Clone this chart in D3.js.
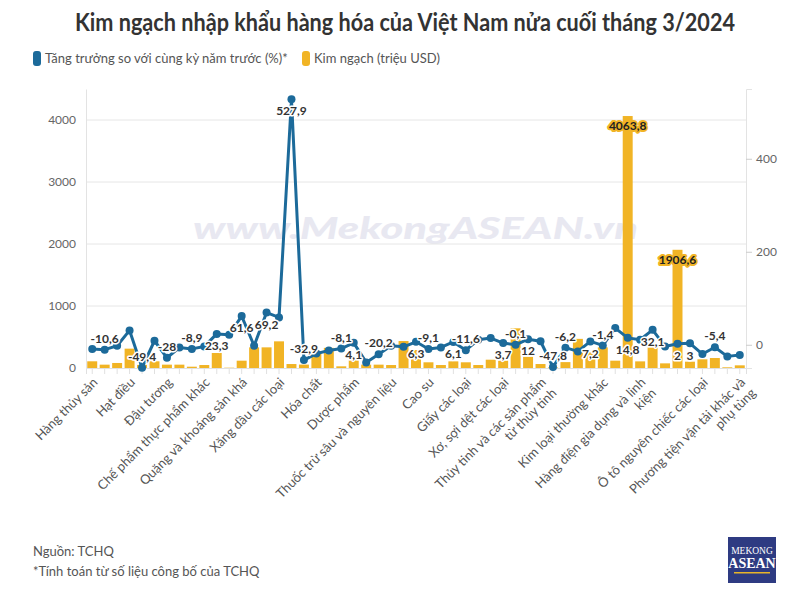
<!DOCTYPE html>
<html>
<head>
<meta charset="utf-8">
<script src="https://cdn.jsdelivr.net/npm/d3@7"></script>
<style>
  body { margin: 0; background: #fff; }
  svg { font-family: Lato, "Open Sans", sans-serif; }
</style>
</head>
<body>
<svg width="806" height="591"></svg>
<script>
// mặt hàng nhập khẩu (53 nhóm, theo thứ tự TCHQ)
var categories = [
  "Hàng thủy sản", "Sữa và sản phẩm sữa", "Hàng rau quả", "Hạt điều", "Lúa mì", "Ngô",
  "Đậu tương", "Dầu mỡ động thực vật", "Bánh kẹo và các sản phẩm từ ngũ cốc",
  "Chế phẩm thực phẩm khác", "Thức ăn gia súc và nguyên liệu", "Nguyên phụ liệu thuốc lá",
  "Quặng và khoáng sản khá", "Than các loại", "Dầu thô", "Xăng dầu các loại",
  "Khí đốt hóa lỏng", "Sản phẩm khác từ dầu mỏ", "Hóa chất", "Sản phẩm hóa chất",
  "Nguyên phụ liệu dược phẩm", "Dược phẩm", "Phân bón các loại",
  "Chất thơm, mỹ phẩm và chế phẩm vệ sinh", "Thuốc trừ sâu và nguyên liệu",
  "Chất dẻo nguyên liệu", "Sản phẩm từ chất dẻo", "Cao su", "Sản phẩm từ cao su",
  "Gỗ và sản phẩm gỗ", "Giấy các loại", "Sản phẩm từ giấy", "Bông các loại",
  "Xơ, sợi dệt các loại", "Vải các loại", "Nguyên phụ liệu dệt, may, da, giày",
  "Thủy tinh và các sản phẩm từ thủy tinh", "Đá quý, kim loại quý và sản phẩm",
  "Phế liệu sắt thép", "Sắt thép các loại", "Sản phẩm từ sắt thép", "Kim loại thường khác",
  "Sản phẩm từ kim loại thường khác", "Máy vi tính, sản phẩm điện tử và linh kiện",
  "Hàng điện gia dụng và linh kiện", "Điện thoại các loại và linh kiện",
  "Máy ảnh, máy quay phim và linh kiện", "Máy móc, thiết bị, dụng cụ, phụ tùng khác",
  "Dây điện và dây cáp điện", "Ô tô nguyên chiếc các loại", "Linh kiện, phụ tùng ô tô",
  "Xe máy và linh kiện, phụ tùng", "Phương tiện vận tải khác và phụ tùng"
];

// Kim ngạch (triệu USD)
var kimNgach = [
  108, 54, 81, 312, 50, 108, 54, 54, 21, 48, 242, 5, 118,
  333, 333, 430, 64, 55, 270, 325, 27, 124, 54, 54, 48,
  435, 290, 92, 48, 107, 92, 48, 134, 118, 640, 180, 64,
  10, 95, 470, 252, 333, 118, 4063.8, 107, 333, 75, 1906.6,
  102, 140, 161, 11, 43
];

// Tăng trưởng so với cùng kỳ năm trước (%)
var tangTruong = [
  -9.3, -10.6, -2.2, 30.8, -49.4, 8.6, -28, -6, -8.9, -3.6, 23.3, 21.5, 61.6,
  -2.2, 69.2, 58.7, 527.9, -32.9, -19, -12.2, -8.1, 4.1, -38, -20.2, -2,
  -4.5, 6.3, -9.1, -5.7, 6.1, -11.6, 10.7, 14.3, 3.7, -0.1, 12, 7.5,
  -47.8, -6.2, -14.3, 7.2, -1.4, 35.8, 14.8, 10.7, 32.1, -3.6, 2,
  3, -20, -5.4, -25, -22
];

var shownTicks = [0, 3, 6, 9, 12, 15, 18, 21, 24, 27, 30, 33, 36, 41, 44, 49, 52];
var growthLabelIdx = [1, 4, 6, 8, 10, 12, 14, 16, 17, 20, 21, 23, 26, 27, 29, 30, 33, 34, 35, 37, 38, 40, 41, 43, 45, 47, 48, 50];
var growthLabelBelow = [10, 12, 14, 16, 21, 26, 29, 33, 35, 40, 43, 45, 47, 48];
var barLabelIdx = [43, 47];
var leftTicks = [0, 1000, 2000, 3000, 4000];
var rightTicks = [0, 200, 400];

var lineColor = "#1c6a9a", barColor = "#f1b425";

var svg = d3.select("svg"),
    margin = {top: 89, right: 60, bottom: 223, left: 86},
    width = +svg.attr("width") - margin.left - margin.right,
    height = +svg.attr("height") - margin.top - margin.bottom;

var vn = function(v) { return String(v).replace(".", ","); };

// tiêu đề
svg.append("text")
    .attr("x", 405).attr("y", 31)
    .attr("text-anchor", "middle")
    .attr("font-size", 24).attr("font-weight", 700)
    .attr("fill", "#333")
    .attr("textLength", 660).attr("lengthAdjust", "spacingAndGlyphs")
    .text("Kim ngạch nhập khẩu hàng hóa của Việt Nam nửa cuối tháng 3/2024");

// chú thích
var legend = [
  {label: "Tăng trưởng so với cùng kỳ năm trước (%)*", color: lineColor, x: 33},
  {label: "Kim ngạch (triệu USD)", color: barColor, x: 302}
];
var lg = svg.selectAll(".legend").data(legend).enter().append("g")
    .attr("class", "legend")
    .attr("transform", function(d) { return "translate(" + d.x + ",51)"; });
lg.append("rect").attr("width", 8).attr("height", 15).attr("rx", 3).attr("fill", function(d) { return d.color; });
lg.append("text").attr("x", 12).attr("y", 12)
    .attr("font-size", 13).attr("fill", "#555")
    .text(function(d) { return d.label; });

var g = svg.append("g").attr("transform", "translate(" + margin.left + "," + margin.top + ")");

var x = d3.scaleBand()
    .domain(categories)
    .range([0, width])
    .paddingInner(0.2)
    .paddingOuter(0.1);

var yL = d3.scaleLinear().domain([0, 4500]).range([height, 0]);
var yR = d3.scaleLinear().domain([-50, 550]).range([height, 0]);

// watermark
g.append("text")
    .attr("x", 107).attr("y", 150)
    .attr("font-size", 30).attr("font-weight", 900).attr("font-style", "italic")
    .attr("fill", "#e8e8f1")
    .attr("textLength", 445).attr("lengthAdjust", "spacingAndGlyphs")
    .text("www.MekongASEAN.vn");

// lưới
g.selectAll(".grid")
  .data(leftTicks.filter(function(d) { return d > 0; }))
  .enter().append("line")
    .attr("x1", 0).attr("x2", width)
    .attr("y1", function(d) { return yL(d); })
    .attr("y2", function(d) { return yL(d); })
    .attr("stroke", "#e6e6e6");

// trục trái
var axL = g.append("g")
    .call(d3.axisLeft(yL).tickValues(leftTicks).tickFormat(d3.format("d")).tickSize(0).tickPadding(10));
axL.select(".domain").attr("stroke", "#e3e3e3");
axL.selectAll("text").attr("font-size", 12).attr("fill", "#666").style("font-family", "Lato, sans-serif");

// trục phải
var axR = g.append("g")
    .attr("transform", "translate(" + width + ",0)")
    .call(d3.axisRight(yR).tickValues(rightTicks).tickSize(6).tickPadding(4));
axR.select(".domain").attr("stroke", "#e3e3e3");
axR.selectAll("line").attr("stroke", "#ccc");
axR.selectAll("text").attr("font-size", 12).attr("fill", "#666").style("font-family", "Lato, sans-serif");

// trục dưới
var axB = g.append("g")
    .attr("transform", "translate(0," + height + ")")
    .call(d3.axisBottom(x).tickSize(6).tickFormat(""));
axB.select(".domain").attr("stroke", "#e0e0e0");
axB.selectAll("line").attr("stroke", "#e0e0e0");

// cột
g.selectAll(".bar")
  .data(kimNgach)
  .enter().append("rect")
    .attr("class", "bar")
    .attr("x", function(d, i) { return x(categories[i]); })
    .attr("y", function(d) { return yL(d); })
    .attr("width", x.bandwidth())
    .attr("height", function(d) { return height - yL(d); })
    .attr("fill", barColor);

// đường tăng trưởng
var cx = function(i) { return x(categories[i]) + x.bandwidth() / 2; };
var line = d3.line()
    .x(function(d, i) { return cx(i); })
    .y(function(d) { return yR(d); });

g.append("path")
    .datum(tangTruong)
    .attr("d", line)
    .attr("fill", "none")
    .attr("stroke", lineColor)
    .attr("stroke-width", 3)
    .attr("stroke-linejoin", "round");

g.selectAll(".dot")
  .data(tangTruong)
  .enter().append("circle")
    .attr("cx", function(d, i) { return cx(i); })
    .attr("cy", function(d) { return yR(d); })
    .attr("r", 4)
    .attr("fill", lineColor);

// nhãn cột
g.selectAll(".barlabel")
  .data(barLabelIdx)
  .enter().append("text")
    .attr("x", function(i) { return cx(i); })
    .attr("y", function(i) { return yL(kimNgach[i]) + 10; })
    .attr("dy", "0.35em")
    .attr("text-anchor", "middle")
    .attr("font-size", 12).attr("font-weight", 700)
    .attr("fill", "#222")
    .attr("stroke", barColor).attr("stroke-width", 4).attr("stroke-linejoin", "round")
    .attr("paint-order", "stroke")
    .text(function(i) { return vn(kimNgach[i]); });

// nhãn đường
g.selectAll(".linelabel")
  .data(growthLabelIdx)
  .enter().append("text")
    .attr("x", function(i) { return cx(i); })
    .attr("y", function(i) {
      return yR(tangTruong[i]) + (growthLabelBelow.indexOf(i) >= 0 ? 12 : -11);
    })
    .attr("dy", "0.35em")
    .attr("text-anchor", "middle")
    .attr("font-size", 12).attr("font-weight", 700)
    .attr("fill", "#333")
    .attr("stroke", "#fff").attr("stroke-width", 3).attr("stroke-linejoin", "round")
    .attr("paint-order", "stroke")
    .text(function(i) { return vn(tangTruong[i]); });

// nhãn trục x: tên dài (>30 ký tự) được xuống dòng, tối đa 27 ký tự mỗi dòng
function wrapName(name) {
  if (name.length <= 30) return [name];
  var lines = [], cur = "";
  name.split(" ").forEach(function(w) {
    var next = cur ? cur + " " + w : w;
    if (next.length > 27 && cur) { lines.push(cur); cur = w; }
    else cur = next;
  });
  lines.push(cur);
  return lines;
}

var xl = g.selectAll(".xlabel")
  .data(shownTicks)
  .enter().append("text")
    .attr("class", "xlabel")
    .attr("transform", function(i) { return "translate(" + (cx(i) + 3) + "," + (height + 12) + ") rotate(-45)"; })
    .attr("text-anchor", "end")
    .attr("font-size", 13)
    .attr("fill", "#555");

xl.selectAll("tspan")
  .data(function(i) { return wrapName(categories[i]); })
  .enter().append("tspan")
    .attr("x", 0)
    .attr("dy", function(d, k) { return k === 0 ? "0.35em" : "1.15em"; })
    .text(function(d) { return d; });

// nguồn
svg.append("text").attr("x", 33).attr("y", 556)
    .attr("font-size", 13).attr("fill", "#555").text("Nguồn: TCHQ");
svg.append("text").attr("x", 33).attr("y", 576)
    .attr("font-size", 13).attr("fill", "#555").text("*Tính toán từ số liệu công bố của TCHQ");

// logo
var logo = svg.append("g").attr("transform", "translate(728,537)");
logo.append("rect").attr("width", 48).attr("height", 46).attr("fill", "#2e3b82");
logo.append("text").attr("x", 24).attr("y", 17).attr("text-anchor", "middle")
    .attr("font-family", "Liberation Serif, serif").attr("font-size", 9.5)
    .attr("fill", "#fff").text("MEKONG");
logo.append("text").attr("x", 24).attr("y", 31).attr("text-anchor", "middle")
    .attr("font-family", "Liberation Serif, serif").attr("font-size", 14).attr("font-weight", 700)
    .attr("fill", "#fff").text("ASEAN");
logo.append("rect").attr("x", 6).attr("y", 35).attr("width", 36).attr("height", 1.5).attr("fill", "#e8b52a");
</script>
</body>
</html>
